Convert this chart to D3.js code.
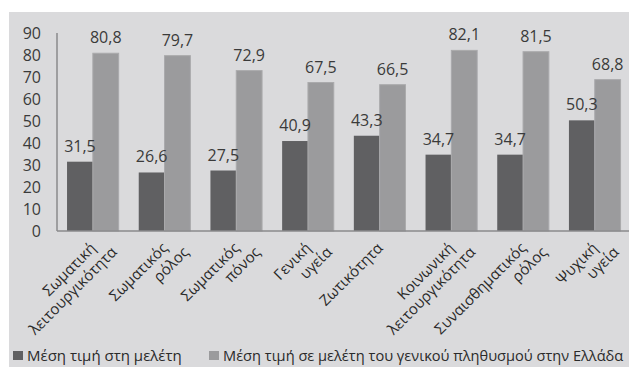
<!DOCTYPE html>
<html>
<head>
<meta charset="utf-8">
<script src="https://cdn.jsdelivr.net/npm/d3@7"></script>
<style>
  html, body { margin: 0; padding: 0; background: #fff; }
  svg { display: block; font-family: "Open Sans", sans-serif; }
</style>
</head>
<body>
<div id="chart"></div>
<script>
// categories (each label split into lines)
const categories = [
  ["Σωματική", "λειτουργικότητα"],
  ["Σωματικός", "ρόλος"],
  ["Σωματικός", "πόνος"],
  ["Γενική", "υγεία"],
  ["Ζωτικότητα"],
  ["Κοινωνική", "λειτουργικότητα"],
  ["Συναισθηματικός", "ρόλος"],
  ["Ψυχική", "υγεία"]
];
const studyValues = [31.5, 26.6, 27.5, 40.9, 43.3, 34.7, 34.7, 50.3];
const generalValues = [80.8, 79.7, 72.9, 67.5, 66.5, 82.1, 81.5, 68.8];
const seriesNames = ["Μέση τιμή στη μελέτη", "Μέση τιμή σε μελέτη του γενικού πληθυσμού στην Ελλάδα"];
const yTicks = [0, 10, 20, 30, 40, 50, 60, 70, 80, 90];

const W = 629, H = 367;
const plot = { left: 57, right: 630.6, top: 33, bottom: 231 };

const svg = d3.select("#chart").append("svg")
  .attr("width", W)
  .attr("height", H);

// gray panel
svg.append("rect")
  .attr("x", 9).attr("y", 12)
  .attr("width", W - 9).attr("height", H - 12)
  .attr("fill", "#dadadc");

const keys = ["study", "general"];
const data = categories.map((c, i) => ({ idx: i, study: studyValues[i], general: generalValues[i] }));

const x = d3.scaleBand()
  .domain(d3.range(categories.length))
  .range([plot.left, plot.right])
  .paddingInner(0.28)
  .paddingOuter(0.14);

const xSub = d3.scaleBand()
  .domain(keys)
  .range([0, x.bandwidth()]);

const y = d3.scaleLinear()
  .domain([0, 90])
  .range([plot.bottom, plot.top]);

const color = d3.scaleOrdinal()
  .domain(keys)
  .range(["#606062", "#9b9b9d"]);

// y tick labels
svg.append("g")
  .selectAll("text")
  .data(yTicks)
  .join("text")
    .attr("x", 41)
    .attr("y", d => y(d))
    .attr("dy", "0.36em")
    .attr("text-anchor", "end")
    .attr("font-size", 16)
    .attr("fill", "#3a3a3a")
    .text(d => d);

// bars
const groups = svg.append("g")
  .selectAll("g")
  .data(data)
  .join("g")
    .attr("transform", d => `translate(${x(d.idx)},0)`);

groups.selectAll("rect")
  .data(d => keys.map(k => ({ key: k, value: d[k] })))
  .join("rect")
    .attr("x", d => xSub(d.key))
    .attr("y", d => y(d.value))
    .attr("width", xSub.bandwidth())
    .attr("height", d => y(0) - y(d.value))
    .attr("fill", d => color(d.key))
    .attr("stroke", d => d.key == "general" ? "#aaaaac" : "none")
    .attr("stroke-width", 1);

// value labels
groups.selectAll("text")
  .data(d => keys.map(k => ({ key: k, value: d[k] })))
  .join("text")
    .attr("x", d => xSub(d.key) + xSub.bandwidth() / 2)
    .attr("y", d => y(d.value) - 10)
    .attr("text-anchor", "middle")
    .attr("font-size", 16)
    .attr("fill", "#3a3a3a")
    .text(d => d3.format(".1f")(d.value).replace(".", ","));

// axes lines
svg.append("line")
  .attr("x1", plot.left).attr("x2", plot.left)
  .attr("y1", plot.top).attr("y2", plot.bottom)
  .attr("stroke", "#8a8a8c").attr("stroke-width", 1.5);
svg.append("line")
  .attr("x1", plot.left).attr("x2", W)
  .attr("y1", plot.bottom).attr("y2", plot.bottom)
  .attr("stroke", "#8a8a8c").attr("stroke-width", 1.5);

// category labels, rotated
const catLabels = svg.append("g")
  .selectAll("text")
  .data(categories)
  .join("text")
    .attr("transform", (d, i) => `translate(${x(i) + x.bandwidth() / 2 + 4},${plot.bottom + 18}) rotate(-45)`)
    .attr("text-anchor", "end")
    .attr("font-size", 15)
    .attr("fill", "#2a2a2a");

catLabels.selectAll("tspan")
  .data(d => d)
  .join("tspan")
    .attr("x", (d, i) => i * 12)
    .attr("y", (d, i) => i * 17.7)
    .text(d => d);

// legend
const legendX = [13, 209];
const legend = svg.append("g")
  .selectAll("g")
  .data(keys)
  .join("g")
    .attr("transform", (d, i) => `translate(${legendX[i]},351)`);
legend.append("rect")
  .attr("width", 10).attr("height", 9)
  .attr("fill", d => color(d));
legend.append("text")
  .attr("x", 14)
  .attr("y", 4.5)
  .attr("dy", "0.36em")
  .attr("font-size", 15)
  .attr("fill", "#2a2a2a")
  .text((d, i) => seriesNames[i])
  .each(function(d, i) {
    // shrink a legend text that would run past the right edge
    const avail = W - 5 - legendX[i] - 14;
    const len = this.getComputedTextLength();
    if (len > avail) {
      d3.select(this).attr("font-size", Math.floor(15 * avail / len * 10) / 10);
    }
  });
</script>
</body>
</html>
